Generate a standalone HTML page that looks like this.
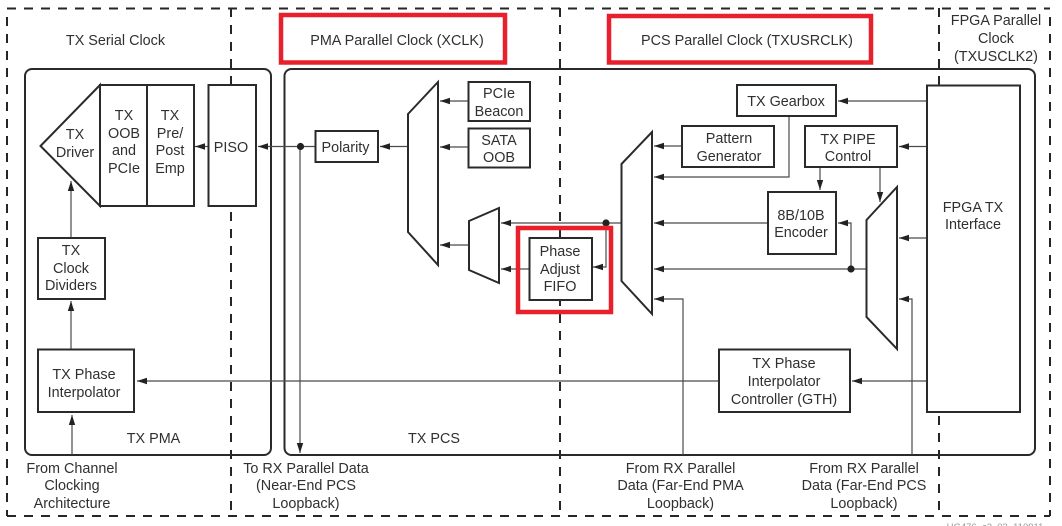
<!DOCTYPE html>
<html>
<head>
<meta charset="utf-8">
<style>
html,body{margin:0;padding:0;background:#fff;width:1062px;height:526px;overflow:hidden}
svg{display:block}
text{font-family:"Liberation Sans",Arial,sans-serif;font-size:14.4px;fill:#303030;text-anchor:middle}
.d{fill:none;stroke:#262626;stroke-width:2;stroke-dasharray:9 8}
.b{fill:#fff;stroke:#2a2a2a;stroke-width:2}
.l{fill:none;stroke:#4a4a4a;stroke-width:1.2;marker-end:url(#a)}
.n{fill:none;stroke:#4a4a4a;stroke-width:1.2}
.r{fill:none;stroke:#e8202c;stroke-width:4.5}
</style>
</head>
<body>
<svg width="1062" height="526" viewBox="0 0 1062 526" xmlns="http://www.w3.org/2000/svg">
<defs>
<marker id="a" markerUnits="userSpaceOnUse" markerWidth="10" markerHeight="8" refX="10" refY="4" orient="auto">
<path d="M0,0.8 L10,4 L0,7.2 Z" fill="#222"/>
</marker>
</defs>
<rect width="1062" height="526" fill="#fff"/>

<!-- dashed frame -->
<path class="d" d="M7,8.5H1050"/>
<path class="d" d="M7,516H1050"/>
<path class="d" d="M7,17V516"/>
<path class="d" d="M1050,17V516"/>
<path class="d" d="M231,8V516"/>
<path class="d" d="M560,8V516"/>
<path class="d" d="M939,8V516"/>

<!-- panels -->
<rect x="25" y="69" width="246" height="386" rx="7" fill="none" stroke="#2a2a2a" stroke-width="2"/>
<rect x="284.500" y="69" width="750.500" height="386" rx="7" fill="none" stroke="#2a2a2a" stroke-width="2"/>

<!-- connectors -->
<path class="l" d="M208,146.500H195"/>
<path class="l" d="M315,146.500H258"/>
<path class="l" d="M300,146.500V453"/>
<path class="l" d="M408,146.500H380"/>
<path class="l" d="M71,238V181"/>
<path class="l" d="M71,349V301"/>
<path class="l" d="M72,455V415"/>
<path class="l" d="M719,381H137"/>
<path class="l" d="M468,101H440"/>
<path class="l" d="M468,147H440"/>
<path class="l" d="M469,245H440"/>
<path class="l" d="M621,223H501"/>
<path class="l" d="M606,223V267H593"/>
<path class="l" d="M529,269H501"/>
<path class="l" d="M682,146H654"/>
<path class="l" d="M789,116V177H654"/>
<path class="l" d="M768,223H654"/>
<path class="l" d="M866,269H654"/>
<path class="l" d="M683,455V299H654"/>
<path class="l" d="M927,101H838"/>
<path class="l" d="M927,146.500H899"/>
<path class="l" d="M820,167V190"/>
<path class="l" d="M880,167V202"/>
<path class="l" d="M851,269V223H838"/>
<path class="l" d="M927,238H899"/>
<path class="l" d="M912,455V299H899"/>
<path class="l" d="M927,381H852"/>
<circle cx="300.500" cy="146.500" r="3.600" fill="#222"/>
<circle cx="606" cy="223" r="3.600" fill="#222"/>
<circle cx="851" cy="269" r="3.600" fill="#222"/>

<!-- TX driver block -->
<polygon class="b" points="40.500,146 100,85 100,206"/>
<rect class="b" x="100" y="85" width="47" height="121"/>
<rect class="b" x="147" y="85" width="47" height="121"/>
<rect class="b" x="208.500" y="85" width="47.500" height="121"/>
<rect class="b" x="38" y="238" width="67" height="61"/>
<rect class="b" x="38" y="349.500" width="96" height="62.500"/>
<rect class="b" x="315.500" y="131" width="62.500" height="31"/>

<!-- muxes -->
<polygon class="b" points="408,114 438,82 438,265 408,232"/>
<polygon class="b" points="469,221 499,208 499,283 469,270"/>
<polygon class="b" points="621.500,164 652,132 652,314 621.500,281"/>
<polygon class="b" points="866.500,220 897,187 897,349 866.500,317"/>

<!-- boxes -->
<rect class="b" x="468.500" y="82" width="61.500" height="39"/>
<rect class="b" x="468.500" y="128.500" width="61.500" height="39"/>
<rect class="b" x="529.500" y="238" width="62.500" height="62"/>
<rect class="b" x="737" y="85" width="99" height="31"/>
<rect class="b" x="682" y="126" width="92" height="41"/>
<rect class="b" x="805" y="126" width="92" height="41"/>
<rect class="b" x="768" y="192" width="68" height="62"/>
<rect class="b" x="719" y="349.500" width="131" height="62.500"/>
<rect class="b" x="927" y="85.500" width="93" height="326.500"/>

<!-- red highlight -->
<rect class="r" x="281" y="15" width="224" height="47.500"/>
<rect class="r" x="609" y="16" width="262" height="46.500"/>
<rect class="r" x="518" y="228" width="93" height="84"/>

<!-- labels -->
<text x="115.500" y="45">TX Serial Clock</text>
<text x="397" y="45">PMA Parallel Clock (XCLK)</text>
<text x="747" y="45">PCS Parallel Clock (TXUSRCLK)</text>
<text x="996" y="25">FPGA Parallel</text>
<text x="996" y="43">Clock</text>
<text x="996" y="61">(TXUSCLK2)</text>

<text x="75" y="139">TX</text>
<text x="75" y="157">Driver</text>
<text x="124" y="120">TX</text>
<text x="124" y="138">OOB</text>
<text x="124" y="155">and</text>
<text x="124" y="173">PCIe</text>
<text x="170" y="120">TX</text>
<text x="170" y="138">Pre/</text>
<text x="170" y="155">Post</text>
<text x="170" y="173">Emp</text>
<text x="231" y="152">PISO</text>
<text x="345.500" y="152">Polarity</text>
<text x="71" y="255">TX</text>
<text x="71" y="273">Clock</text>
<text x="71" y="290">Dividers</text>
<text x="84" y="379">TX Phase</text>
<text x="84" y="397">Interpolator</text>
<text x="153.500" y="443">TX PMA</text>
<text x="434" y="443">TX PCS</text>

<text x="499" y="98">PCIe</text>
<text x="499" y="116">Beacon</text>
<text x="499" y="145">SATA</text>
<text x="499" y="162">OOB</text>
<text x="560" y="256">Phase</text>
<text x="560" y="274">Adjust</text>
<text x="560" y="291">FIFO</text>
<text x="786" y="106">TX Gearbox</text>
<text x="729" y="143">Pattern</text>
<text x="729" y="161">Generator</text>
<text x="848" y="144">TX PIPE</text>
<text x="848" y="161">Control</text>
<text x="801" y="220">8B/10B</text>
<text x="801" y="237">Encoder</text>
<text x="973" y="212">FPGA TX</text>
<text x="973" y="229">Interface</text>
<text x="784" y="368">TX Phase</text>
<text x="784" y="386">Interpolator</text>
<text x="784" y="404">Controller (GTH)</text>

<text x="72" y="473">From Channel</text>
<text x="72" y="490">Clocking</text>
<text x="72" y="508">Architecture</text>
<text x="306" y="473">To RX Parallel Data</text>
<text x="306" y="490">(Near-End PCS</text>
<text x="306" y="508">Loopback)</text>
<text x="680.500" y="473">From RX Parallel</text>
<text x="680.500" y="490">Data (Far-End PMA</text>
<text x="680.500" y="508">Loopback)</text>
<text x="864" y="473">From RX Parallel</text>
<text x="864" y="490">Data (Far-End PCS</text>
<text x="864" y="508">Loopback)</text>

<text x="995" y="530" style="font-size:9.500px;fill:#999">UG476_c3_03_110911</text>
</svg>
</body>
</html>
